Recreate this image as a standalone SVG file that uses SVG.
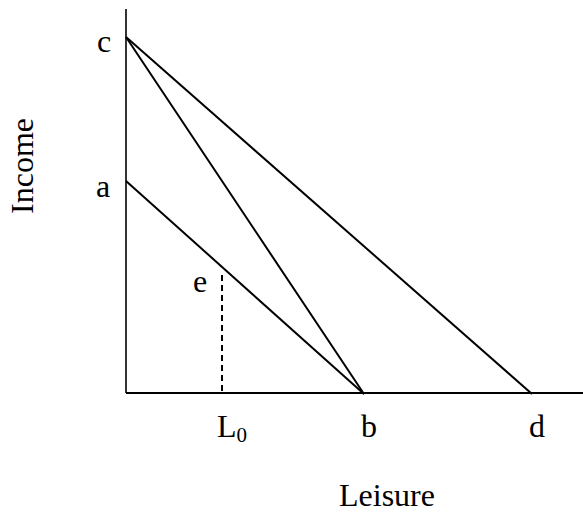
<svg xmlns="http://www.w3.org/2000/svg" width="583" height="513" viewBox="0 0 583 513">
<style>
.ln{stroke:#000;stroke-width:2;fill:none}
.ax{stroke:#000;stroke-width:2;fill:none}
.t{font-family:"Liberation Serif","Times New Roman",serif;font-size:32px;fill:#000}
</style>
<rect width="583" height="513" fill="#fff"/>
<g id="axes">
<line class="ax" x1="126" y1="9" x2="126" y2="393" style="stroke-width:1.6"/>
<line class="ax" x1="126" y1="393" x2="583" y2="393"/>
</g>
<g id="connectors">
<line class="ln" x1="126" y1="37" x2="364" y2="394"/>
<line class="ln" x1="126" y1="37" x2="532" y2="394"/>
<line class="ln" x1="126" y1="181" x2="364" y2="394"/>
<line class="ln" x1="222" y1="275" x2="222" y2="393" stroke-dasharray="6,4"/>
</g>
<g id="labels">
<text class="t" x="97" y="52">c</text>
<text class="t" x="96" y="197">a</text>
<text class="t" x="193" y="292">e</text>
<text class="t" x="217" y="437">L<tspan font-size="21" dy="5">0</tspan></text>
<text class="t" x="361" y="437">b</text>
<text class="t" x="529" y="437">d</text>
<text class="t" x="387" y="506" text-anchor="middle">Leisure</text>
<text class="t" transform="translate(33,166) rotate(-90)" text-anchor="middle">Income</text>
</g>
</svg>
